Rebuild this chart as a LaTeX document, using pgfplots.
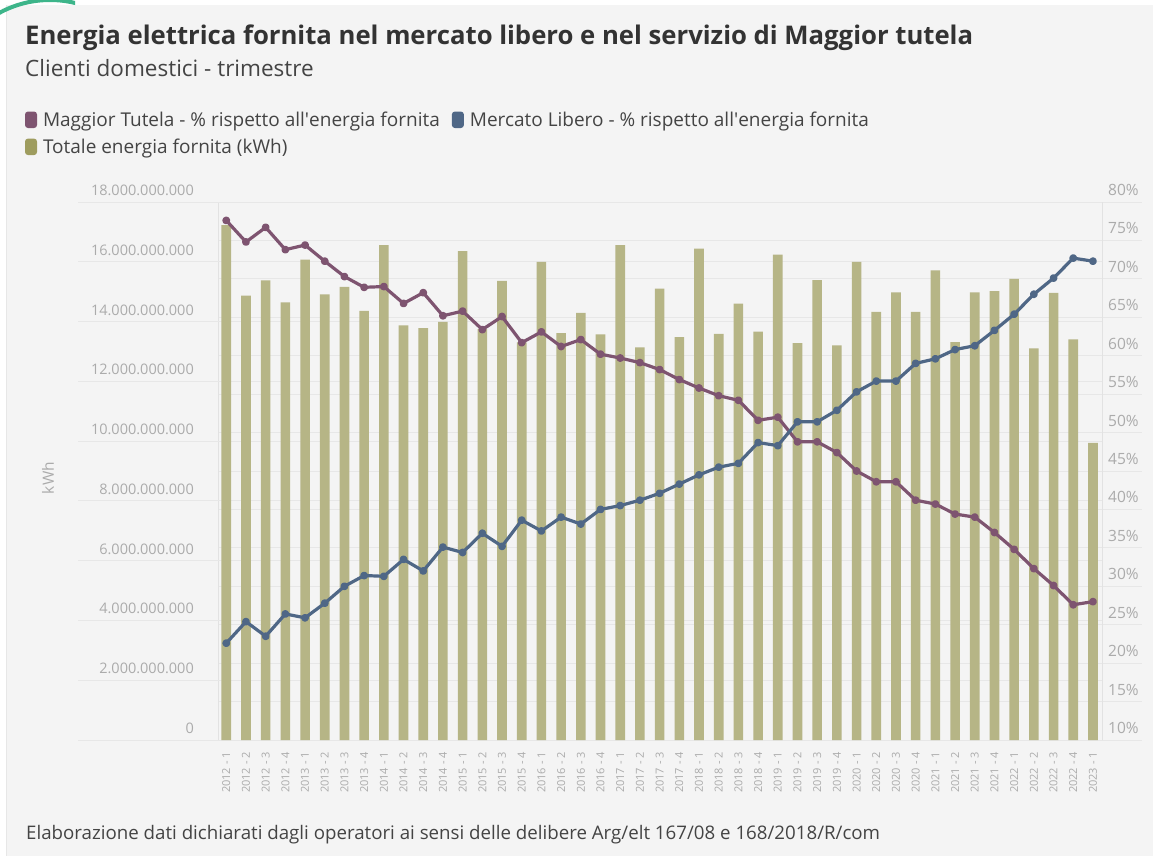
\documentclass[border=0pt]{standalone}
\usepackage{pgfplots}
\pgfplotsset{compat=1.18}
\usepackage{pgfplotstable}
\usepackage{fontspec}
\setmainfont{Open Sans}

\definecolor{bgcol}{HTML}{F4F4F4}
\definecolor{gridcol}{HTML}{E7E7E7}
\definecolor{axiscol}{HTML}{E2E2E2}
\definecolor{tickcol}{HTML}{ABABAB}
\definecolor{titlecol}{HTML}{333333}
\definecolor{textcol}{HTML}{444444}
\definecolor{mtcol}{HTML}{7E5470}
\definecolor{mlcol}{HTML}{4F6786}
\definecolor{olive}{HTML}{9E9C5E}
\definecolor{barcol}{HTML}{B6B586}
\definecolor{arccol}{HTML}{3DB58A}

% totale energia fornita (kWh), trimestri 0 = 2012-1 ... 44 = 2023-1
\pgfplotstableread{
x  kwh
0  17.23e9
1  14.87e9
2  15.38e9
3  14.64e9
4  16.07e9
5  14.91e9
6  15.16e9
7  14.36e9
8  16.56e9
9  13.87e9
10 13.78e9
11 13.99e9
12 16.36e9
13 13.75e9
14 15.36e9
15 13.30e9
16 16.00e9
17 13.61e9
18 14.29e9
19 13.57e9
20 16.56e9
21 13.14e9
22 15.10e9
23 13.48e9
24 16.44e9
25 13.59e9
26 14.60e9
27 13.66e9
28 16.24e9
29 13.28e9
30 15.39e9
31 13.20e9
32 16.00e9
33 14.32e9
34 14.98e9
35 14.32e9
36 15.71e9
37 13.31e9
38 14.98e9
39 15.02e9
40 15.43e9
41 13.10e9
42 14.96e9
43 13.40e9
44 9.94e9
}\energia

% quote percentuali: mt = Maggior Tutela, ml = Mercato Libero
\pgfplotstableread{
x  mt    ml
0  77.6  22.6
1  74.8  25.4
2  76.7  23.5
3  73.8  26.4
4  74.4  25.9
5  72.3  27.8
6  70.3  30.0
7  68.9  31.4
8  69.0  31.3
9  66.8  33.5
10 68.2  32.0
11 65.2  35.1
12 65.8  34.4
13 63.4  36.9
14 65.1  35.2
15 61.7  38.6
16 63.1  37.2
17 61.2  39.0
18 62.1  38.1
19 60.2  40.0
20 59.7  40.5
21 59.1  41.2
22 58.2  42.1
23 56.9  43.3
24 55.8  44.5
25 54.8  45.5
26 54.2  46.0
27 51.6  48.7
28 52.0  48.3
29 48.8  51.4
30 48.8  51.4
31 47.4  52.9
32 45.0  55.3
33 43.6  56.7
34 43.6  56.7
35 41.2  59.0
36 40.7  59.6
37 39.4  60.8
38 39.0  61.3
39 37.0  63.3
40 34.8  65.4
41 32.3  68.0
42 30.1  70.1
43 27.6  72.7
44 28.0  72.3
}\quote

\begin{document}
\begin{tikzpicture}
\fill[white] (0pt,0pt) rectangle (1153pt,-856pt);
\fill[bgcol] (6pt,-5pt) rectangle (1153pt,-856pt);
\draw[gridcol, line width=0.8pt] (6pt,-5pt) -- (6pt,-856pt);
\begin{scope}
  \clip (0pt,0pt) rectangle (75pt,-18pt);
  \draw[arccol, line width=4pt] (50pt,-106pt) circle (106pt);
\end{scope}

\node[anchor=base west, inner sep=0pt, text=titlecol, font=\fontsize{25.7}{30}\selectfont\bfseries]
  at (25pt,-44pt) {Energia elettrica fornita nel mercato libero e nel servizio di Maggior tutela};
\node[anchor=base west, inner sep=0pt, text=textcol, font=\fontsize{22.5}{26}\selectfont]
  at (25pt,-76pt) {Clienti domestici - trimestre};
\node[anchor=base west, inner sep=0pt, text=textcol, font=\fontsize{18.7}{22}\selectfont]
  at (26pt,-839pt) {Elaborazione dati dichiarati dagli operatori ai sensi delle delibere Arg/elt 167/08 e 168/2018/R/com};

% griglia e etichette dell'asse percentuale (destra)
\begin{axis}[
  at={(218pt,-740pt)}, anchor=south west,
  scale only axis, width=884pt, height=538pt,
  xmin=-0.42, xmax=44.46, ymin=10, ymax=80,
  axis line style={draw=none},
  xtick=\empty,
  ytick={10,15,...,80}, ytick pos=right, major tick length=0pt,
  ymajorgrids, grid style={gridcol, line width=0.8pt},
  yticklabel={\pgfmathprintnumber{\tick}\%},
  /pgf/number format/assume math mode=true,
  yticklabel style={anchor=base west, inner sep=0pt, xshift=6pt, yshift=6.5pt,
    font=\fontsize{15.5}{16}\selectfont, text=tickcol},
  clip=false,
]
\pgfplotsinvokeforeach{10,15,...,80}{
  \draw[gridcol, line width=0.8pt] (axis cs:44.46,#1) -- ++(40pt,0pt);
}
\draw[axiscol, line width=0.8pt] (rel axis cs:0,0) -- (rel axis cs:0,1);
\draw[axiscol, line width=0.8pt] (rel axis cs:1,0) -- (rel axis cs:1,1);
\end{axis}

% barre: totale energia fornita
\begin{axis}[
  at={(218pt,-740pt)}, anchor=south west,
  scale only axis, width=884pt, height=538pt,
  xmin=-0.42, xmax=44.46, ymin=0, ymax=18e9,
  axis line style={draw=none},
  scaled y ticks=false,
  ytick={0,2e9,4e9,6e9,8e9,10e9,12e9,14e9,16e9,18e9},
  yticklabels={0,2.000.000.000,4.000.000.000,6.000.000.000,8.000.000.000,10.000.000.000,12.000.000.000,14.000.000.000,16.000.000.000,18.000.000.000},
  ytick pos=left, major tick length=0pt,
  ymajorgrids, grid style={gridcol, line width=0.8pt},
  yticklabel style={anchor=base east, inner sep=0pt, xshift=-24pt, yshift=6.5pt,
    font=\fontsize{14.5}{15}\selectfont, text=tickcol},
  xtick={0,...,44},
  xticklabels={2012 - 1,2012 - 2,2012 - 3,2012 - 4,2013 - 1,2013 - 2,2013 - 3,2013 - 4,2014 - 1,2014 - 2,2014 - 3,2014 - 4,2015 - 1,2015 - 2,2015 - 3,2015 - 4,2016 - 1,2016 - 2,2016 - 3,2016 - 4,2017 - 1,2017 - 2,2017 - 3,2017 - 4,2018 - 1,2018 - 2,2018 - 3,2018 - 4,2019 - 1,2019 - 2,2019 - 3,2019 - 4,2020 - 1,2020 - 2,2020 - 3,2020 - 4,2021 - 1,2021 - 2,2021 - 3,2021 - 4,2022 - 1,2022 - 2,2022 - 3,2022 - 4,2023 - 1},
  xtick pos=bottom,
  xticklabel style={rotate=90, anchor=east, inner sep=0pt,
    font=\fontsize{11}{11}\selectfont, text=tickcol},
  xticklabel shift=12pt,
  ylabel={kWh},
  ylabel style={at={(axis description cs:-0.1923,0.487)}, anchor=center, rotate=0,
    font=\fontsize{15.5}{16}\selectfont, text=tickcol},
  clip=false,
]
\pgfplotsinvokeforeach{0,2,4,6,8,10,12,14,16,18}{
  \draw[gridcol, line width=0.8pt] (axis cs:-0.42,#1e9) -- ++(-140pt,0pt);
}
\addplot[ybar, bar width=9.6pt, bar shift=0pt, fill=barcol, draw=none] table[x=x, y=kwh] {\energia};
\end{axis}

% linee: quote percentuali
\begin{axis}[
  at={(218pt,-740pt)}, anchor=south west,
  scale only axis, width=884pt, height=538pt,
  xmin=-0.42, xmax=44.46, ymin=10, ymax=80,
  hide axis,
  legend columns=2,
  legend cell align=left,
  legend style={at={(axis description cs:-0.2183,1.1710)}, anchor=north west,
    draw=none, fill=none, inner sep=0pt, outer sep=0pt,
    font=\fontsize{19}{22}\selectfont, text=textcol,
    /tikz/every even column/.append style={column sep=10pt},
    row sep=7pt},
  legend image code/.code={\fill[#1, rounded corners=3pt] (0pt,-8pt) rectangle (12pt,8.5pt);
    \path (16pt,0pt);},
]
\addlegendimage{fill=mtcol, draw=none}
\addlegendentry{Maggior Tutela - \% rispetto all\textquotesingle energia fornita}
\addlegendimage{fill=mlcol, draw=none}
\addlegendentry{Mercato Libero - \% rispetto all\textquotesingle energia fornita}
\addlegendimage{fill=olive, draw=none}
\addlegendentry{Totale energia fornita (kWh)}
\addplot[mtcol, line width=3.2pt, line join=round, mark=*, mark size=2.3pt, forget plot] table[x=x, y=mt] {\quote};
\addplot[mlcol, line width=3.2pt, line join=round, mark=*, mark size=2.3pt, forget plot] table[x=x, y=ml] {\quote};
\end{axis}
\end{tikzpicture}
\end{document}
